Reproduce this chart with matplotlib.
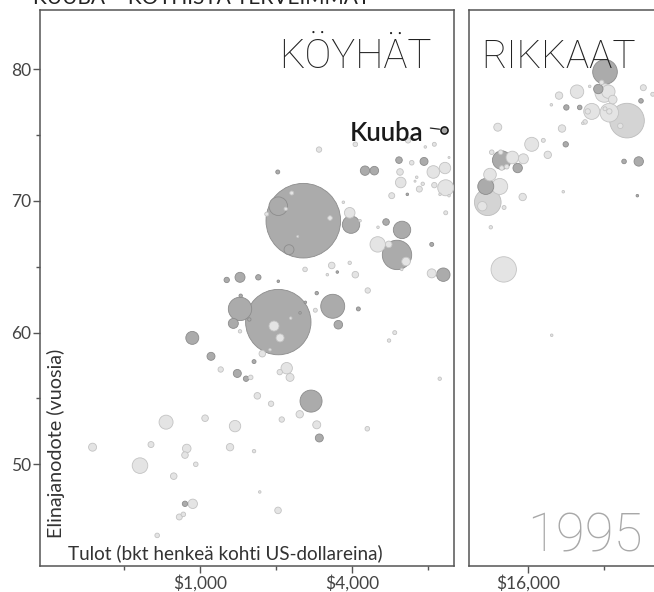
import numpy as np
import matplotlib
matplotlib.use("Agg")
import matplotlib.pyplot as plt
from matplotlib.ticker import FixedLocator, NullFormatter

plt.rcParams['font.family'] = ['Lato', 'DejaVu Sans']

# --- data: poor countries (left panel), income in USD, life expectancy in years, population in millions
poor_income = [2039, 2560, 2039, 2248, 2304, 2182, 1835, 3265, 2433, 6641, 8438, 7774, 4111, 2954,
               2029, 4490, 4887, 6117, 6869, 7683, 8361, 9300, 9645, 6174, 6214, 7188, 7078, 7592,
               7361, 8438, 9360, 5726, 6599, 8886, 9645, 9360, 3686, 3906, 3953, 4291, 5437, 5053,
               6288, 5040, 5571, 6007, 6521, 6271, 8240, 8240, 9158, 3316, 3186, 3489, 3906, 4111,
               2601, 1700, 1439, 1275, 2039, 4602, 4225, 2893, 3346, 3521, 2856, 1961, 2072, 2485,
               2283, 1891, 1566, 1448, 2608, 1439, 1354, 1439, 1763, 1105, 932, 1207, 1404, 1520,
               1586, 1635, 2066, 2201, 2269, 1685, 1909, 2747, 2478, 2104, 2893, 2962, 1375, 1047,
               1314, 1635, 4585, 5884, 5587, 8862, 734, 376, 640, 886, 872, 962, 579, 787, 936, 872,
               859, 828, 677, 1722, 2034]
poor_life = [60.8, 68.5, 69.6, 66.3, 70.6, 69.4, 69.0, 68.7, 67.3, 74.6, 74.3, 74.1, 74.3, 73.9,
             72.2, 72.3, 72.3, 73.1, 72.9, 73.0, 72.2, 72.5, 73.3, 72.2, 71.4, 71.8, 71.5, 71.3,
             70.9, 71.2, 71.0, 70.4, 70.5, 70.5, 70.4, 69.1, 69.9, 69.1, 68.2, 68.5, 68.4, 68.0,
             67.8, 66.7, 66.7, 65.9, 65.4, 64.8, 66.7, 64.5, 64.4, 65.1, 64.4, 64.6, 65.3, 64.4,
             64.8, 64.2, 64.2, 64.0, 63.9, 63.2, 61.8, 63.0, 62.0, 60.6, 61.7, 60.5, 59.6, 61.5,
             61.1, 58.7, 61.0, 62.8, 62.3, 61.8, 60.7, 60.1, 58.4, 58.2, 59.6, 57.2, 56.9, 56.5,
             56.6, 57.8, 57.0, 57.3, 56.6, 55.2, 54.6, 54.8, 53.8, 53.4, 53.0, 52.0, 52.9, 53.5,
             51.3, 51.0, 52.7, 60.0, 59.4, 56.5, 53.2, 51.3, 51.5, 51.2, 50.7, 50.0, 49.9, 49.1,
             47.0, 47.0, 46.2, 46.0, 44.6, 47.9, 46.5]
poor_pop = [916, 1192, 74, 21, 3.4, 2.5, 3.4, 4.5, 0.9, 6.2, 3.4, 1.4, 4.5, 6.2,
            3.4, 18.9, 15.8, 9.3, 4.5, 13.7, 34, 27.8, 0.9, 9.3, 24.1, 1.4, 0.9, 2.5,
            7.7, 6.2, 54.8, 7.7, 1.4, 1.4, 1.4, 3.4, 1.4, 24.1, 64.9, 1.4, 9.3, 1.4,
            64.9, 50.8, 9.3, 185, 15.8, 1.4, 3.4, 17.4, 38.5, 9.3, 1.4, 1.4, 2.5, 9.3,
            4.5, 6.2, 21.4, 6.2, 1.4, 6.2, 3.4, 2.5, 123, 15.8, 3.4, 21.4, 13.7, 1.4,
            1.4, 1.4, 2.5, 2.5, 1.4, 117, 21.4, 2.5, 9.3, 13.7, 36, 6.2, 13.7, 6.2,
            4.5, 3.4, 6.2, 27.8, 13.7, 9.3, 6.2, 104, 11.7, 6.2, 13.7, 13.7, 27.8, 9.3,
            11.7, 2.5, 4.5, 3.4, 2.5, 2.5, 42, 13.7, 7.7, 15.8, 9.3, 4.5, 52, 9.3,
            18.9, 6.2, 4.5, 7.7, 4.5, 1.4, 9.3]
poor_group = list("dddd" "lllll" "lllll" "ddddl" "dlllll" "lllll" "lldlll" "lldldld"
                  "lldlldld" "lldllld" "dddlddddl" "lldllddddd" "l" "lddlddl" "dlll"
                  "lldllldl" "lllllllll" "llllllld" "lllllllll")

# --- data: rich countries (right panel)
rich_income = [32330, 30420, 31380, 32130, 33330, 34690, 25060, 21280, 28130, 19840, 22740, 25680,
               28650, 27630, 33620, 33620, 32330, 39500, 37160, 45830, 49920, 44860, 26960, 26400,
               21860, 18440, 22610, 16590, 12180, 19200, 15380, 13910, 12630, 12510, 11530, 12630,
               13220, 14600, 11350, 10920, 12400, 11120, 10580, 12900, 15280, 22110, 38450, 43950,
               43400, 11430, 12860, 19900]
rich_life = [79.8, 78.5, 79.0, 78.2, 78.3, 77.7, 78.3, 78.0, 78.7, 77.3, 77.1, 77.1,
             76.8, 76.8, 76.7, 76.8, 77.0, 76.1, 75.7, 78.6, 78.1, 77.6, 76.0, 75.9,
             75.5, 74.6, 74.3, 74.3, 75.6, 73.5, 73.2, 73.3, 73.1, 73.7, 73.7, 72.5,
             72.6, 72.5, 72.0, 71.1, 71.1, 69.9, 69.6, 69.5, 70.3, 70.7, 73.0, 73.0,
             70.4, 68.0, 64.8, 59.8]
rich_pop = [130, 18.9, 4.5, 74, 38.5, 15.8, 38.5, 11.7, 1.4, 1.4, 6.2, 4.5,
            54.8, 6.2, 74, 6.2, 3.4, 257, 6.2, 7.7, 3.4, 4.5, 4.5, 1.4,
            11.7, 3.4, 6.2, 42, 13.7, 11.7, 21.4, 34, 74, 4.5, 4.5, 4.5,
            4.5, 18.9, 34, 54.8, 54.8, 152, 18.9, 3.4, 11.7, 1.4, 4.5, 18.9,
            1.4, 2.5, 138, 1.4]
rich_group = list("ddllll" "lllldd" "lllllml" "lldll" "lldl" "lllldlll" "ldldlml" "lllddd" "ll" "l")

cuba = (9240, 75.4, 11)

fills = {'d': '#ababab', 'l': '#e4e4e4', 'm': '#d4d4d4'}
edges = {'d': '#8c8c8c', 'l': '#c3c3c3', 'm': '#bcbcbc'}
SCALE = 2.42  # marker area (pt^2) per million people


def bubbles(ax, inc, life, pop, grp):
    order = np.argsort(pop)[::-1]
    inc = np.array(inc)[order]
    life = np.array(life)[order]
    pop = np.array(pop)[order]
    grp = [grp[i] for i in order]
    ax.scatter(inc, life, s=pop * SCALE, c=[fills[g] for g in grp],
               edgecolors=[edges[g] for g in grp], linewidths=0.6, zorder=3)


fig = plt.figure(figsize=(6.54, 5.92), dpi=100)
axL = fig.add_axes([40 / 654, 26.3 / 592, 414.3 / 654, 555.7 / 592])
axR = fig.add_axes([469.3 / 654, 26.3 / 592, 184.7 / 654, 555.7 / 592])

bubbles(axL, poor_income, poor_life, poor_pop, poor_group)
bubbles(axR, rich_income, rich_life, rich_pop, rich_group)

# Cuba highlighted
axL.scatter([cuba[0]], [cuba[1]], s=cuba[2] * SCALE, c='#a8a8a8', edgecolors='#111111',
            linewidths=1.1, zorder=5)
axL.annotate('Kuuba', xy=(cuba[0], cuba[1]), xytext=(-15, -8), textcoords='offset points',
             ha='right', va='baseline', fontsize=18.5, color='#1a1a1a', fontweight='semibold',
             arrowprops=dict(arrowstyle='-', color='#222222', lw=0.9, relpos=(1.0, 0.75),
                             shrinkA=3, shrinkB=3.5), zorder=6)

for ax in (axL, axR):
    ax.set_xscale('log')
    ax.set_ylim(42.3, 84.5)
    for sp in ax.spines.values():
        sp.set_color('#555555')
        sp.set_linewidth(1.1)
    ax.tick_params(axis='both', which='major', direction='out', length=5, width=1,
                   color='#555555', labelcolor='#444444', labelsize=12.5, pad=1.5)
    ax.tick_params(axis='both', which='minor', direction='out', length=3, width=1,
                   color='#555555')

axL.set_xlim(233, 10120)
axL.xaxis.set_major_locator(FixedLocator([1000, 4000]))
axL.set_xticklabels(['$1,000', '$4,000'])
axL.xaxis.set_minor_locator(FixedLocator([500, 2000, 8000]))
axL.xaxis.set_minor_formatter(NullFormatter())
axL.yaxis.set_major_locator(FixedLocator([50, 60, 70, 80]))
axL.yaxis.set_minor_locator(FixedLocator([55, 65, 75]))

axR.set_xlim(9400, 50500)
axR.xaxis.set_major_locator(FixedLocator([16000]))
axR.set_xticklabels(['$16,000'])
axR.xaxis.set_minor_locator(FixedLocator([32000]))
axR.xaxis.set_minor_formatter(NullFormatter())
axR.set_yticks([])
axR.spines['right'].set_visible(False)

# panel texts
thin = ['Roboto', 'DejaVu Sans']
axL.text(0.946, 0.8956, 'KÖYHÄT', transform=axL.transAxes, ha='right', va='baseline',
         fontsize=29, family=thin, fontweight='light', color='#222222')
axR.text(0.063, 0.8956, 'RIKKAAT', transform=axR.transAxes, ha='left', va='baseline',
         fontsize=28, family=thin, fontweight='light', color='#222222')
axR.text(0.94, 0.0247, '1995', transform=axR.transAxes, ha='right', va='baseline',
         fontsize=38, family=thin, fontweight='light', color='#a8a8a8')
axL.text(0.0676, 0.012, 'Tulot (bkt henkeä kohti US-dollareina)', transform=axL.transAxes,
         ha='left', va='baseline', fontsize=13.6, color='#333333')
axL.text(0.0386, 0.0498, 'Elinajanodote (vuosia)', transform=axL.transAxes, rotation=90,
         ha='center', va='bottom', fontsize=14.2, color='#333333')

fig.text(33 / 654, 1 - 3.5 / 592, 'KUUBA – KÖYHISTÄ TERVEIMMÄT', ha='left', va='baseline',
         fontsize=15, color='#222222')

fig.savefig('out.png', dpi=100)
